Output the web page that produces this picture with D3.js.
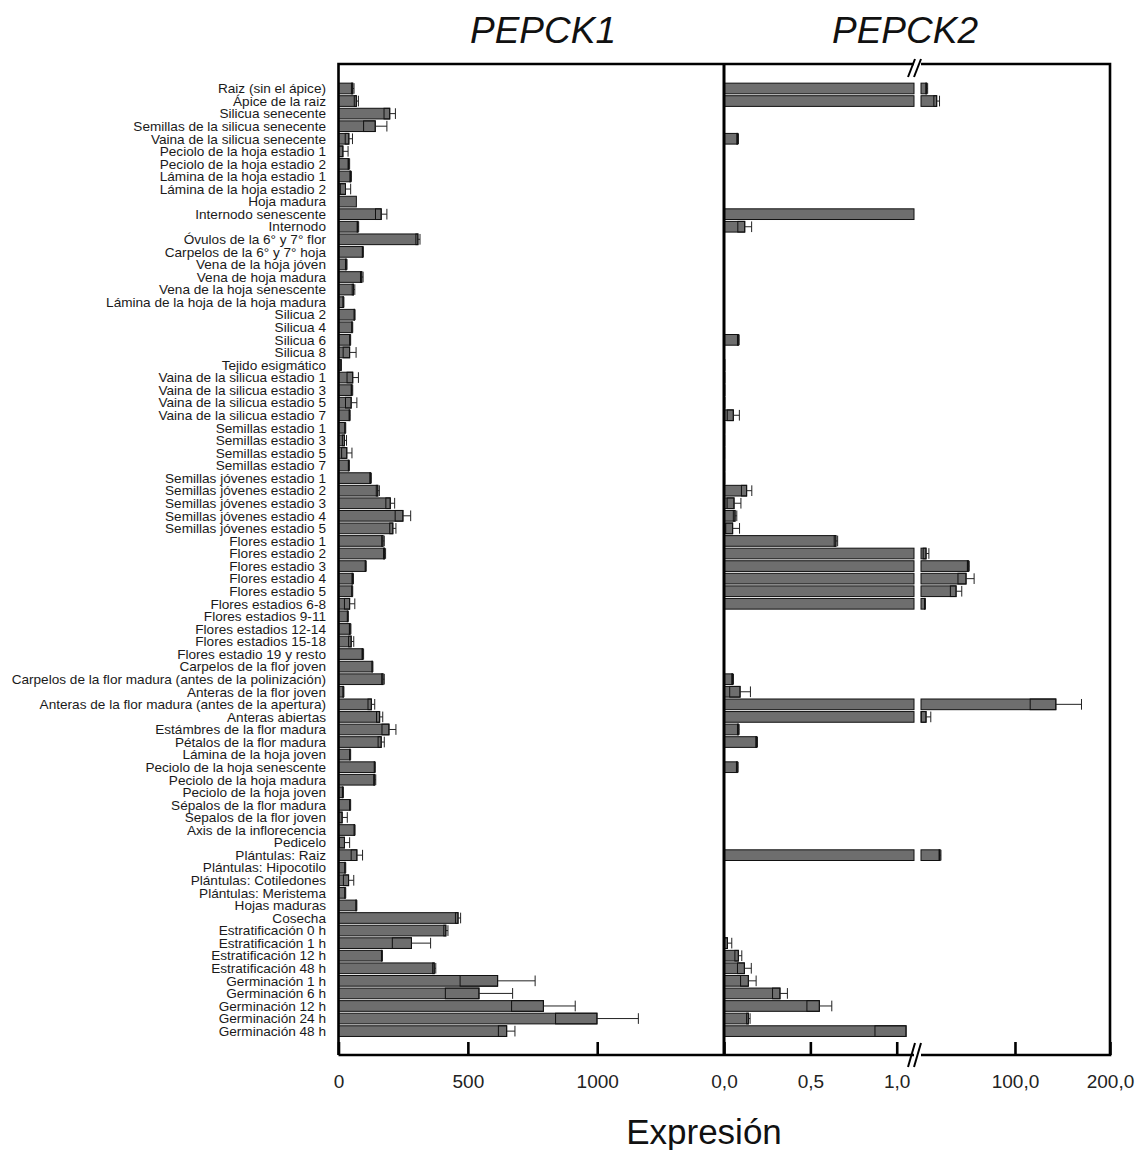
<!DOCTYPE html>
<html>
<head>
<meta charset="utf-8">
<script src="https://cdn.jsdelivr.net/npm/d3@7"></script>
<style>
  body { margin: 0; background: #fff; }
  svg { display: block; font-family: "Liberation Sans", Arial, sans-serif; }
</style>
</head>
<body>
<div id="chart"></div>
<script>
const categories = [
  "Raiz (sin el ápice)", "Ápice de la raiz", "Silicua senecente", "Semillas de la silicua senecente",
  "Vaina de la silicua senecente", "Peciolo de la hoja estadio 1", "Peciolo de la hoja estadio 2",
  "Lámina de la hoja estadio 1", "Lámina de la hoja estadio 2", "Hoja madura", "Internodo senescente",
  "Internodo", "Óvulos de la 6° y 7° flor", "Carpelos de la 6° y 7° hoja", "Vena de la hoja jóven",
  "Vena de hoja madura", "Vena de la hoja senescente", "Lámina de la hoja de la hoja madura",
  "Silicua 2", "Silicua 4", "Silicua 6", "Silicua 8", "Tejido esigmático",
  "Vaina de la silicua estadio 1", "Vaina de la silicua estadio 3", "Vaina de la silicua estadio 5",
  "Vaina de la silicua estadio 7", "Semillas estadio 1", "Semillas estadio 3", "Semillas estadio 5",
  "Semillas estadio 7", "Semillas jóvenes estadio 1", "Semillas jóvenes estadio 2",
  "Semillas jóvenes estadio 3", "Semillas jóvenes estadio 4", "Semillas jóvenes estadio 5",
  "Flores estadio 1", "Flores estadio 2", "Flores estadio 3", "Flores estadio 4", "Flores estadio 5",
  "Flores estadios 6-8", "Flores estadios 9-11", "Flores estadios 12-14", "Flores estadios 15-18",
  "Flores estadio 19 y resto", "Carpelos de la flor joven",
  "Carpelos de la flor madura (antes de la polinización)", "Anteras de la flor joven",
  "Anteras de la flor madura (antes de la apertura)", "Anteras abiertas",
  "Estámbres de la flor madura", "Pétalos de la flor madura", "Lámina de la hoja joven",
  "Peciolo de la hoja senescente", "Peciolo de la hoja madura", "Peciolo de la hoja joven",
  "Sépalos de la flor madura", "Sepalos de la flor joven", "Axis de la inflorecencia", "Pedicelo",
  "Plántulas: Raiz", "Plántulas: Hipocotilo", "Plántulas: Cotiledones", "Plántulas: Meristema",
  "Hojas maduras", "Cosecha", "Estratificación 0 h", "Estratificación 1 h", "Estratificación 12 h",
  "Estratificación 48 h", "Germinación 1 h", "Germinación 6 h", "Germinación 12 h",
  "Germinación 24 h", "Germinación 48 h"
];

const pepck1 = [
  55, 69, 198, 142, 40, 17, 40, 47, 27, 69, 165, 75, 307, 94, 30, 90, 58, 19,
  62, 53, 45, 43, 10, 55, 52, 49, 43, 26, 23, 32, 40,
  124, 152, 200, 249, 210,
  172, 178, 105, 55, 53, 43, 36, 45, 49, 94, 131, 172, 19, 127, 159, 195, 165,
  45, 140, 140, 17, 45, 14, 62, 23, 71, 26, 39, 26, 69,
  462, 415, 282, 168, 370, 615, 543, 792, 999, 650
];
const pepck1Err = [
  5, 8, 22, 45, 14, 20, 3, 3, 20, 0, 22, 3, 8, 2, 3, 5, 5, 2,
  2, 2, 2, 25, 1, 22, 3, 22, 2, 2, 8, 20, 2,
  3, 6, 17, 30, 12,
  5, 4, 2, 3, 2, 20, 2, 3, 10, 3, 2, 5, 2, 13, 12, 27, 12,
  2, 2, 4, 2, 2, 20, 2, 20, 22, 2, 20, 2, 2,
  10, 8, 74, 2, 6, 145, 130, 123, 160, 32
];

// null = no bar drawn
const pepck2 = [
  7.1, 17.6, null, null, 0.079, null, null, null, null, null, 1.1, 0.12, null, null, null, null, null, null,
  null, null, 0.083, null, 0.005, 0.005, 0.005, 0.005, 0.054, 0.004, 0.004, 0.004, 0.004,
  0.004, 0.131, 0.058, 0.064, 0.05,
  0.648, 6.4, 50.9, 48.5, 38, 5.3, null, null, null, null, null, 0.05, 0.093, 143, 6.4, 0.083, 0.189,
  null, 0.077, null, null, null, null, null, null, 21.1, null, null, null, null,
  null, null, 0.02, 0.083, 0.118, 0.141, 0.324, 0.552, 0.141, 1.054
];
const pepck2Err = [
  1, 3, 0, 0, 0.005, 0, 0, 0, 0, 0, 0, 0.04, 0, 0, 0, 0, 0, 0,
  0, 0, 0.005, 0, 0, 0, 0, 0, 0.035, 0, 0, 0, 0,
  0, 0.03, 0.04, 0.01, 0.04,
  0.01, 3, 1, 8.5, 6, 0.5, 0, 0, 0, 0, 0, 0.005, 0.06, 27, 5, 0.005, 0.005,
  0, 0.005, 0, 0, 0, 0, 0, 0, 1, 0, 0, 0, 0,
  0, 0, 0.025, 0.02, 0.04, 0.045, 0.043, 0.072, 0.01, 0.18
];

const ticks1 = [0, 500, 1000];
const ticks2a = [0, 0.5, 1.0];
const ticks2b = [100, 200];
const breakAt = 1.1;

const width = 1145, height = 1150;
const yTop = 64, yBottom = 1055;
const left1 = 338.5, right1 = 724, right2 = 1110;

const svg = d3.select("#chart").append("svg")
  .attr("width", width)
  .attr("height", height);

const y = d3.scaleBand()
  .domain(categories)
  .range([82.2, 1037.4])
  .paddingInner(0.15)
  .paddingOuter(0.075);

const x1 = d3.scaleLinear().domain([0, 1490]).range([left1, right1]);
const x2a = d3.scaleLinear().domain([0, breakAt]).range([right1, 914]);
const x2b = d3.scaleLinear().domain([breakAt, 200]).range([921, right2]);

const barFill = "#6e6e6e";

// category labels
svg.append("g")
  .selectAll("text")
  .data(categories)
  .join("text")
  .attr("x", 326)
  .attr("y", d => y(d) + y.bandwidth() / 2)
  .attr("dy", "0.35em")
  .attr("text-anchor", "end")
  .attr("font-size", 13.6)
  .attr("fill", "#1a1a1a")
  .text(d => d);

// helper that draws bar + inner sd box + whisker
function drawBars(g, vals, errs, xs) {
  const rows = categories.map((c, i) => ({ c, v: vals[i], e: errs[i] })).filter(d => d.v != null);
  const h = y.bandwidth();

  rows.forEach(d => {
    const yy = y(d.c);
    xs(d.v).forEach(seg => {
      g.append("rect")
        .attr("x", seg.x0).attr("y", yy)
        .attr("width", Math.max(0.5, seg.x1 - seg.x0)).attr("height", h)
        .attr("fill", barFill).attr("stroke", "#111").attr("stroke-width", 1);
    });
    if (d.e > 0) {
      const sc = xs.scaleFor(d.v);
      const lo = Math.max(sc.domain()[0], d.v - d.e);
      g.append("rect")
        .attr("x", sc(lo)).attr("y", yy)
        .attr("width", sc(d.v) - sc(lo)).attr("height", h)
        .attr("fill", "none").attr("stroke", "#111").attr("stroke-width", 1);
      // whisker only when it fits inside the axis segment
      if (d.v + d.e <= sc.domain()[1]) {
        const hi = d.v + d.e;
        g.append("line")
          .attr("x1", sc(d.v)).attr("x2", sc(hi))
          .attr("y1", yy + h / 2).attr("y2", yy + h / 2)
          .attr("stroke", "#222").attr("stroke-width", 1);
        g.append("line")
          .attr("x1", sc(hi)).attr("x2", sc(hi))
          .attr("y1", yy).attr("y2", yy + h)
          .attr("stroke", "#222").attr("stroke-width", 1);
      }
    }
  });
}

const seg1 = v => [{ x0: x1(0), x1: x1(v) }];
seg1.scaleFor = () => x1;

const seg2 = v => v <= breakAt
  ? [{ x0: x2a(0), x1: x2a(v) }]
  : [{ x0: x2a(0), x1: x2a(breakAt) }, { x0: x2b(breakAt), x1: x2b(v) }];
seg2.scaleFor = v => v <= breakAt ? x2a : x2b;

drawBars(svg.append("g"), pepck1, pepck1Err, seg1);
drawBars(svg.append("g"), pepck2, pepck2Err, seg2);

// frame
const frame = svg.append("g").attr("stroke", "#000").attr("stroke-width", 2.6).attr("fill", "none");
frame.append("path").attr("d", `M${left1},${yBottom}V${yTop}H914M921,${yTop}H${right2}V${yBottom}H921M914,${yBottom}H${left1}`);
frame.append("line").attr("x1", right1).attr("x2", right1).attr("y1", yTop).attr("y2", yBottom)
  .attr("stroke-width", 3);

// break marks
const brk = svg.append("g").attr("stroke", "#000").attr("stroke-width", 2);
[[yTop - 5, yTop + 13], [yBottom - 12, yBottom + 12]].forEach(([ya, yb]) => {
  brk.append("line").attr("x1", 908).attr("y1", yb).attr("x2", 915).attr("y2", ya);
  brk.append("line").attr("x1", 914).attr("y1", yb).attr("x2", 921).attr("y2", ya);
});

// axes
const fmt = d => d3.format(".1f")(d).replace(".", ",");
function styleAxis(g) {
  g.select(".domain").remove();
  g.selectAll(".tick line").attr("stroke", "#000").attr("stroke-width", 2.6);
  g.selectAll(".tick text").attr("font-size", 19).attr("fill", "#222")
    .attr("font-family", "Liberation Sans, Arial, sans-serif");
}
svg.append("g").attr("transform", `translate(0,${yBottom})`)
  .call(d3.axisBottom(x1).tickValues(ticks1).tickFormat(d3.format("d")).tickSizeInner(-13).tickSizeOuter(0).tickPadding(20))
  .call(styleAxis);
svg.append("g").attr("transform", `translate(0,${yBottom})`)
  .call(d3.axisBottom(x2a).tickValues(ticks2a).tickFormat(fmt).tickSizeInner(-13).tickSizeOuter(0).tickPadding(20))
  .call(styleAxis);
svg.append("g").attr("transform", `translate(0,${yBottom})`)
  .call(d3.axisBottom(x2b).tickValues(ticks2b).tickFormat(fmt).tickSizeInner(-13).tickSizeOuter(0).tickPadding(20))
  .call(styleAxis);

// titles
svg.append("text").attr("x", 543).attr("y", 43).attr("text-anchor", "middle")
  .attr("font-size", 37).attr("font-style", "italic").attr("fill", "#111").text("PEPCK1");
svg.append("text").attr("x", 905).attr("y", 43).attr("text-anchor", "middle")
  .attr("font-size", 37).attr("font-style", "italic").attr("fill", "#111").text("PEPCK2");
svg.append("text").attr("x", 704).attr("y", 1144).attr("text-anchor", "middle")
  .attr("font-size", 35).attr("fill", "#111").text("Expresión");
</script>
</body>
</html>
